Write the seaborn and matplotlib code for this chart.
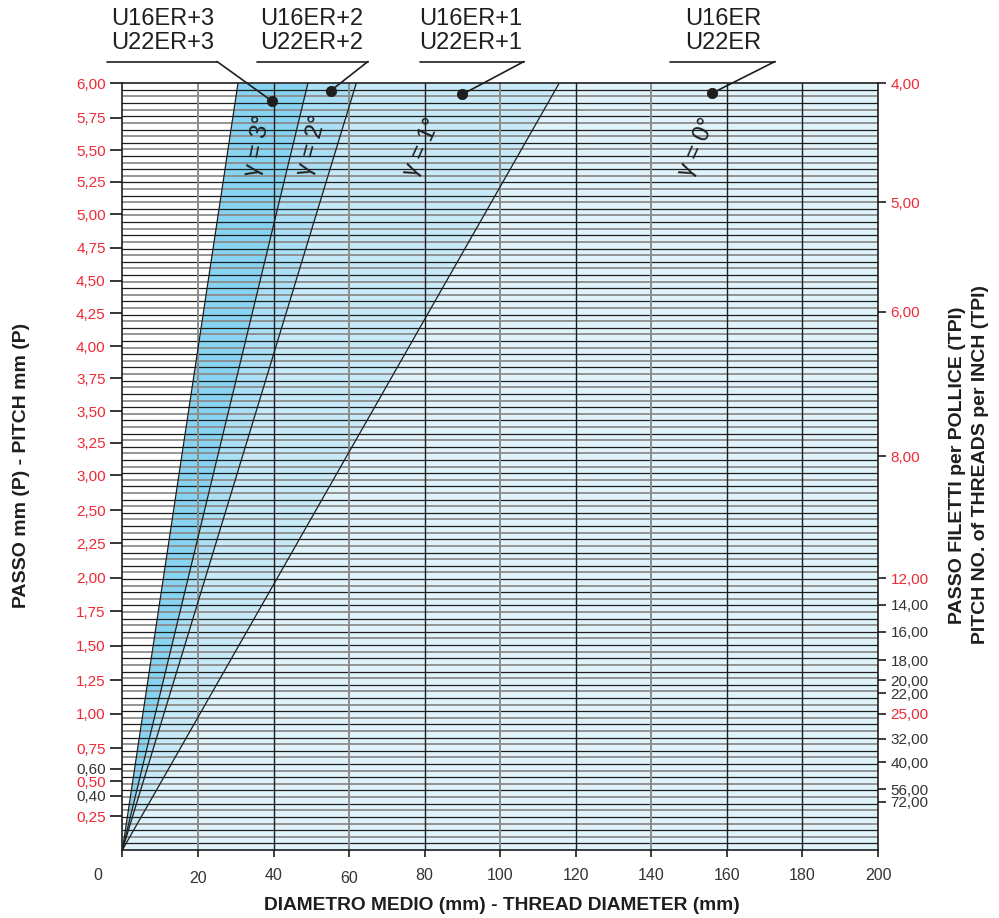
import pandas as pd
import matplotlib
matplotlib.use('Agg')
import matplotlib.pyplot as plt
from matplotlib.lines import Line2D
from matplotlib.transforms import ScaledTranslation
import seaborn as sns

sns.set_style('white')
plt.rcParams['font.family'] = ['Liberation Sans', 'DejaVu Sans']

RED = '#ee2a35'
DARK = '#1e1e1e'
GRAY = '#8c8c8c'

# nomogram: y axis is counted in grid rows (0 at the bottom, 116 at the top)
top_row = 116

# diameter where each gamma limit line meets the top edge
gamma_labels = ['γ = 3°', 'γ = 2°', 'γ = 1°', 'γ = 0°']
top_diam = [30.6, 49.1, 61.9, 115.6]

pitch_labels = ['6,00', '5,75', '5,50', '5,25', '5,00', '4,75', '4,50', '4,25',
                '4,00', '3,75', '3,50', '3,25', '3,00', '2,50', '2,25', '2,00',
                '1,75', '1,50', '1,25', '1,00', '0,75', '0,60', '0,50', '0,40', '0,25']
pitch_rows = [116.0, 110.8, 105.9, 101.1, 96.2, 91.1, 86.1, 81.2,
              76.2, 71.4, 66.4, 61.6, 56.7, 51.4, 46.4, 41.2,
              36.1, 30.9, 25.7, 20.6, 15.4, 12.3, 10.4, 8.2, 5.1]
pitch_red = [True] * 21 + [False, True, False, True]

tpi_labels = ['4,00', '5,00', '6,00', '8,00', '12,00', '14,00', '16,00', '18,00',
              '20,00', '22,00', '25,00', '32,00', '40,00', '56,00', '72,00']
tpi_rows = [116.0, 98.0, 81.4, 59.6, 41.1, 37.1, 33.0, 28.7,
            25.7, 23.7, 20.6, 16.8, 13.3, 9.2, 7.3]
tpi_red = [True, True, True, True, True, False, False, False,
           False, False, True, False, False, False, False]

diam_ticks = list(range(0, 201, 20))

holders = ['U16ER+3\nU22ER+3', 'U16ER+2\nU22ER+2', 'U16ER+1\nU22ER+1', 'U16ER\nU22ER']
holder_diam = [39.6, 55.2, 89.9, 156.1]
holder_row = [113.3, 114.9, 114.3, 114.5]

fills = ['#87d3f2', '#aadff5', '#c8e9f8', '#e0f2fa']

# %%

fig = plt.figure(figsize=(9.99, 9.18), dpi=100)
ax = fig.add_axes([0.1225, 0.0741, 0.7564, 0.8352])
ax.set_xlim(0, 200)
ax.set_ylim(0, top_row)

# wedges between the limit lines
for i in range(len(top_diam)):
    right = [0, top_diam[i + 1]] if i + 1 < len(top_diam) else [200, 200]
    ax.fill_betweenx([0, top_row], [0, top_diam[i]], right,
                     color=fills[i], lw=0, zorder=0)

# dense horizontal grid
for r in range(1, top_row):
    ax.axhline(r, color=DARK if r % 2 else GRAY, lw=0.9 if r % 2 else 1.3, zorder=1)
for k, x in enumerate(diam_ticks[1:-1]):
    light = k % 2 == 0 and x < 160
    ax.axvline(x, color=GRAY if light else DARK, lw=1.4 if light else 1.0, zorder=1)

lines = pd.DataFrame({
    'diam': [v for d in top_diam for v in (0, d)],
    'row': [0, top_row] * len(top_diam),
    'gamma': [g for g in gamma_labels for _ in range(2)],
})
sns.lineplot(data=lines, x='diam', y='row', units='gamma', estimator=None,
             sort=False, color=DARK, lw=0.9, ax=ax, zorder=3)

for lab, x, y, rot in zip(gamma_labels, [35.9, 50.4, 79.5, 152.1],
                          [106.6, 106.6, 106.3, 106.3], [79, 75, 66, 66]):
    ax.text(x, y, lab, rotation=rot, fontsize=17, color=DARK,
            ha='center', va='center', rotation_mode='anchor', zorder=4)

sns.scatterplot(x=holder_diam, y=holder_row, color=DARK, s=55, ax=ax,
                zorder=5, clip_on=False, edgecolor=DARK)

for sp in ax.spines.values():
    sp.set_color(DARK)
    sp.set_linewidth(1.2)
    sp.set_zorder(6)

# left axis: pitch
ax.set_yticks(pitch_rows)
ax.set_yticklabels(pitch_labels)
ax.tick_params(axis='y', left=True, length=9, width=1.3, pad=3, labelsize=11)
for i, (t, lab) in enumerate(zip(ax.yaxis.get_major_ticks(), ax.get_yticklabels())):
    lab.set_color(RED if pitch_red[i] else '#333333')
    t.tick1line.set_color(DARK if i % 2 == 0 else GRAY)

# bottom axis: diameter
ax.set_xticks(diam_ticks)
ax.set_xticklabels([str(v) for v in diam_ticks])
ax.tick_params(axis='x', bottom=True, length=5, width=1.2, pad=8,
               labelsize=11.5, labelcolor='#333333', color=DARK)
xl = ax.get_xticklabels()
xl[0].set_transform(xl[0].get_transform() + ScaledTranslation(-0.25, 0, fig.dpi_scale_trans))
for j in (1, 3):
    xl[j].set_transform(xl[j].get_transform() + ScaledTranslation(0, -0.03, fig.dpi_scale_trans))

# right axis: threads per inch
ax2 = ax.twinx()
ax2.set_ylim(0, top_row)
ax2.set_yticks(tpi_rows)
ax2.set_yticklabels(tpi_labels)
ax2.tick_params(axis='y', right=True, length=6, width=1.2, pad=3, labelsize=11, color=DARK)
for i, lab in enumerate(ax2.get_yticklabels()):
    lab.set_color(RED if tpi_red[i] else '#333333')
for sp in ax2.spines.values():
    sp.set_visible(False)

# axis titles
fig.text(22 / 999, 1 - 465 / 918, 'PASSO mm (P) - PITCH mm (P)', rotation=90,
         fontsize=14, fontweight='bold', color=DARK, ha='center', va='center')
fig.text(502 / 999, 1 - 905 / 918, 'DIAMETRO MEDIO (mm) - THREAD DIAMETER (mm)',
         fontsize=13.8, fontweight='bold', color=DARK, ha='center', va='center')
fig.text(969 / 999, 1 - 465 / 918,
         'PASSO FILETTI per POLLICE (TPI)\nPITCH NO. of THREADS per INCH (TPI)',
         rotation=90, fontsize=14, fontweight='bold', color=DARK,
         ha='center', va='center', linespacing=1.45)

# holder callouts above the chart
text_x = [163, 312, 471, 723]
under = [(107, 217), (257, 368), (420, 524), (670, 775)]
for name, cx, (u0, u1), dx, dy in zip(holders, text_x, under, holder_diam, holder_row):
    fig.text(cx / 999, 1 - 31 / 918, name, fontsize=17, color=DARK,
             ha='center', va='center', linespacing=1.1)
    fig.add_artist(Line2D([u0 / 999, u1 / 999], [1 - 61.5 / 918] * 2,
                          transform=fig.transFigure, color=DARK, lw=1.2))
    ax.annotate('', xy=(dx, dy), xycoords='data', xytext=(u1, 918 - 61.5),
                textcoords='figure pixels', annotation_clip=False,
                arrowprops=dict(arrowstyle='-', color=DARK, lw=1.2,
                                shrinkA=0, shrinkB=0))

ax.set_xlabel('')
ax.set_ylabel('')
fig.savefig('out.png', dpi=100)
